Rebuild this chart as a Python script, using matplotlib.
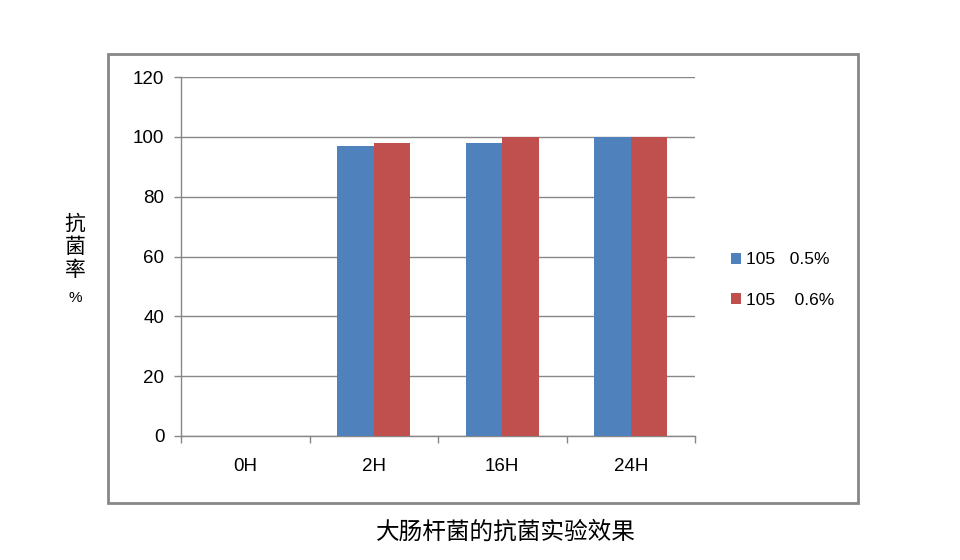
import matplotlib
matplotlib.use('Agg')
import matplotlib.pyplot as plt
from matplotlib.patches import Rectangle
import numpy as np

plt.rcParams['font.family'] = ['Noto Sans CJK SC', 'DejaVu Sans']

categories = ['0H', '2H', '16H', '24H']
series_a = [0, 97, 98, 100]
series_b = [0, 98, 100, 100]
labels = ['105   0.5%', '105    0.6%']
colors = ['#4F81BD', '#C0504D']
yticks = [0, 20, 40, 60, 80, 100, 120]

W, H = 960, 560
fig = plt.figure(figsize=(W / 100, H / 100), dpi=100)

# outer chart frame
fig.patches.append(Rectangle((108 / W, 1 - 503 / H), (858 - 108) / W, (503 - 54) / H,
                             transform=fig.transFigure, fill=False,
                             edgecolor='#878787', linewidth=2))

ax = fig.add_axes([181 / W, 1 - 436 / H, (695 - 181) / W, (436 - 77) / H])
x = np.arange(len(categories))
bw = 0.284
ax.bar(x - bw / 2, series_a, bw, color=colors[0], label=labels[0], zorder=3)
ax.bar(x + bw / 2, series_b, bw, color=colors[1], label=labels[1], zorder=3)

ax.set_xlim(-0.5, len(categories) - 0.5)
ax.set_ylim(0, 120)
ax.set_yticks(yticks)
ax.set_yticklabels([str(v) for v in yticks], family=['Liberation Sans'])
ax.yaxis.grid(True, color='#878787', linewidth=1, zorder=0)
ax.set_xticks(x)
ax.set_xticklabels(categories, family=['Liberation Sans'])
ax.set_xticks(np.arange(len(categories) + 1) - 0.5, minor=True)
ax.tick_params(axis='x', which='major', length=0, pad=16, labelsize=13.5)
ax.tick_params(axis='x', which='minor', length=5, color='#878787', width=1)
ax.tick_params(axis='y', length=5, color='#878787', width=1, labelsize=13.5, pad=7)
for s in ['top', 'right']:
    ax.spines[s].set_visible(False)
for s in ['left', 'bottom']:
    ax.spines[s].set_color('#878787')
    ax.spines[s].set_linewidth(1)

# y label, stacked vertically
fig.text(75 / W, 1 - 247 / H, '抗\n菌\n率', ha='center', va='center', fontsize=15,
         linespacing=1.05)
fig.text(75 / W, 1 - 298 / H, '%', ha='center', va='center', fontsize=11,
         family=['Liberation Sans'])

ax.legend(loc='center left', bbox_to_anchor=(715 / W, 1 - 280 / H),
          bbox_transform=fig.transFigure, frameon=False,
          handlelength=0.6, handleheight=0.6, handletextpad=0.3,
          labelspacing=1.45, prop={'family': ['Liberation Sans'], 'size': 12.5})

fig.text(506 / W, 1 - 532 / H, '大肠杆菌的抗菌实验效果', ha='center', va='center',
         fontsize=17)

fig.savefig('out.png', dpi=100, facecolor='white')
